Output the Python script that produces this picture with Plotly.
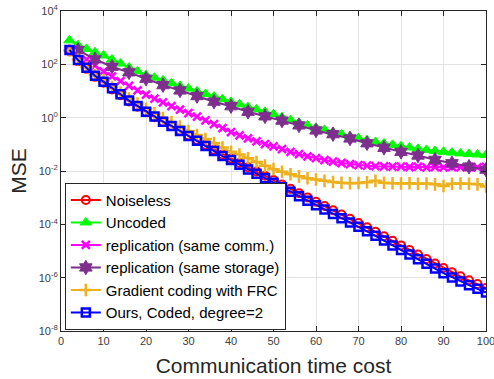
import plotly.graph_objects as go

# Communication time cost (iterations) for the dense series
t = list(range(2, 101, 2))
# The "same storage" replication scheme is sampled every 4 units
t_storage = list(range(4, 101, 4))

# log10(MSE) for each scheme
noiseless_log = [2.50, 2.12, 1.83, 1.53, 1.31, 1.06, 0.84, 0.61, 0.41, 0.20,
                 0.02, -0.16, -0.31, -0.49, -0.67, -0.84, -1.02, -1.20, -1.38, -1.53,
                 -1.70, -1.86, -2.02, -2.18, -2.34, -2.51, -2.67, -2.83, -2.99, -3.15,
                 -3.31, -3.47, -3.63, -3.79, -3.95, -4.11, -4.28, -4.45, -4.62, -4.79,
                 -4.96, -5.13, -5.30, -5.47, -5.64, -5.80, -5.95, -6.10, -6.24, -6.39]
uncoded_log = [2.90, 2.72, 2.58, 2.45, 2.33, 2.18, 2.03, 1.88, 1.74, 1.60,
               1.50, 1.40, 1.29, 1.19, 1.09, 0.99, 0.89, 0.79, 0.69, 0.59,
               0.50, 0.40, 0.31, 0.22, 0.13, 0.02, -0.09, -0.19, -0.29, -0.38,
               -0.46, -0.54, -0.62, -0.70, -0.77, -0.84, -0.91, -0.97, -1.02, -1.07,
               -1.12, -1.17, -1.21, -1.25, -1.28, -1.31, -1.34, -1.36, -1.38, -1.40]
rep_comm_log = [2.52, 2.35, 2.19, 1.95, 1.74, 1.55, 1.37, 1.19, 1.02, 0.86,
                0.71, 0.57, 0.43, 0.30, 0.17, 0.04, -0.10, -0.24, -0.39, -0.54,
                -0.66, -0.78, -0.89, -0.99, -1.08, -1.18, -1.28, -1.37, -1.45, -1.52,
                -1.59, -1.65, -1.70, -1.74, -1.78, -1.80, -1.82, -1.83, -1.84, -1.84,
                -1.85, -1.84, -1.86, -1.85, -1.86, -1.85, -1.86, -1.85, -1.86, -1.85]
rep_storage_log = [2.54, 2.19, 1.91, 1.70, 1.46, 1.22, 1.02, 0.81, 0.60, 0.43,
                   0.22, 0.05, -0.11, -0.29, -0.48, -0.62, -0.78, -0.96, -1.13, -1.28,
                   -1.42, -1.58, -1.71, -1.84, -1.95]
frc_log = [2.52, 2.17, 1.89, 1.60, 1.39, 1.15, 0.94, 0.72, 0.53, 0.33,
           0.16, -0.01, -0.17, -0.33, -0.50, -0.65, -0.80, -0.95, -1.12, -1.28,
           -1.38, -1.52, -1.66, -1.80, -1.93, -2.03, -2.12, -2.20, -2.27, -2.32,
           -2.37, -2.41, -2.44, -2.46, -2.45, -2.42, -2.37, -2.44, -2.46, -2.47,
           -2.46, -2.48, -2.47, -2.50, -2.56, -2.48, -2.47, -2.48, -2.50, -2.58]
ours_log = [2.54, 2.16, 1.87, 1.57, 1.35, 1.10, 0.88, 0.64, 0.44, 0.22,
            0.04, -0.15, -0.31, -0.50, -0.69, -0.87, -1.06, -1.25, -1.44, -1.59,
            -1.77, -1.94, -2.10, -2.27, -2.44, -2.61, -2.78, -2.95, -3.12, -3.28,
            -3.44, -3.61, -3.77, -3.93, -4.09, -4.26, -4.43, -4.61, -4.79, -4.96,
            -5.13, -5.31, -5.48, -5.66, -5.83, -5.99, -6.14, -6.28, -6.42, -6.56]

y_tick_exps = [-8, -6, -4, -2, 0, 2, 4]
x_ticks = [0, 10, 20, 30, 40, 50, 60, 70, 80, 90, 100]


def to_mse(vals):
    return [10 ** v for v in vals]


FONT = "Liberation Sans, Arial, sans-serif"
AX_COLOR = "#262626"

series = [
    ("Noiseless", t, noiseless_log, "#ff0000",
     dict(symbol="circle-open", size=8, line=dict(width=2, color="#ff0000"))),
    ("Uncoded", t, uncoded_log, "#00ff00",
     dict(symbol="triangle-up", size=10, color="#00ff00", line=dict(width=1, color="#00ff00"))),
    ("replication (same comm.)", t, rep_comm_log, "#ff00ff",
     dict(symbol="x-thin-open", size=8, line=dict(width=2.5, color="#ff00ff"))),
    ("replication (same storage)", t_storage, rep_storage_log, "#7e2f8e",
     dict(symbol="hexagram", size=11, color="#7e2f8e", line=dict(width=1, color="#7e2f8e"))),
    ("Gradient coding with FRC", t, frc_log, "#edb120",
     dict(symbol="cross-thin-open", size=9, line=dict(width=2.5, color="#edb120"))),
    ("Ours, Coded, degree=2", t, ours_log, "#0000ff",
     dict(symbol="square-open", size=8, line=dict(width=2.5, color="#0000ff"))),
]

fig = go.Figure()
for name, xs, ys, color, marker in series:
    fig.add_trace(go.Scatter(
        x=xs, y=to_mse(ys), name=name, mode="lines+markers",
        line=dict(color=color, width=2), marker=marker,
    ))

fig.update_layout(
    width=494, height=379,
    margin=dict(l=61, r=8, t=11, b=48),
    paper_bgcolor="white", plot_bgcolor="white",
    font=dict(family=FONT, color=AX_COLOR),
    showlegend=True,
    legend=dict(
        x=0.009, y=0.004, xanchor="left", yanchor="bottom",
        bgcolor="white", bordercolor=AX_COLOR, borderwidth=1,
        font=dict(size=15, color="#000000", family=FONT),
        tracegroupgap=0, itemwidth=30,
    ),
)

fig.update_xaxes(
    range=[0, 100], tickvals=x_ticks, ticktext=[str(v) for v in x_ticks],
    showgrid=True, gridcolor="#e3e3e3", gridwidth=1,
    showline=True, linecolor=AX_COLOR, linewidth=1, mirror="ticks",
    ticks="inside", ticklen=5, tickcolor=AX_COLOR,
    tickfont=dict(size=11, color="#404040"), ticklabeloverflow="allow",
    automargin=False,
    title=dict(text="Communication time cost", font=dict(size=21, color=AX_COLOR), standoff=12),
    zeroline=False,
)
fig.update_yaxes(
    type="log", range=[-8, 4],
    tickvals=[10 ** e for e in y_tick_exps],
    ticktext=["10<sup>%d</sup>" % e for e in y_tick_exps],
    showgrid=True, gridcolor="#e3e3e3", gridwidth=1,
    showline=True, linecolor=AX_COLOR, linewidth=1, mirror="ticks",
    ticks="inside", ticklen=5, tickcolor=AX_COLOR,
    tickfont=dict(size=11, color="#404040"),
    automargin=False,
    title=dict(text="MSE", font=dict(size=21, color=AX_COLOR), standoff=6),
    zeroline=False,
)

fig.write_html("out.html")
